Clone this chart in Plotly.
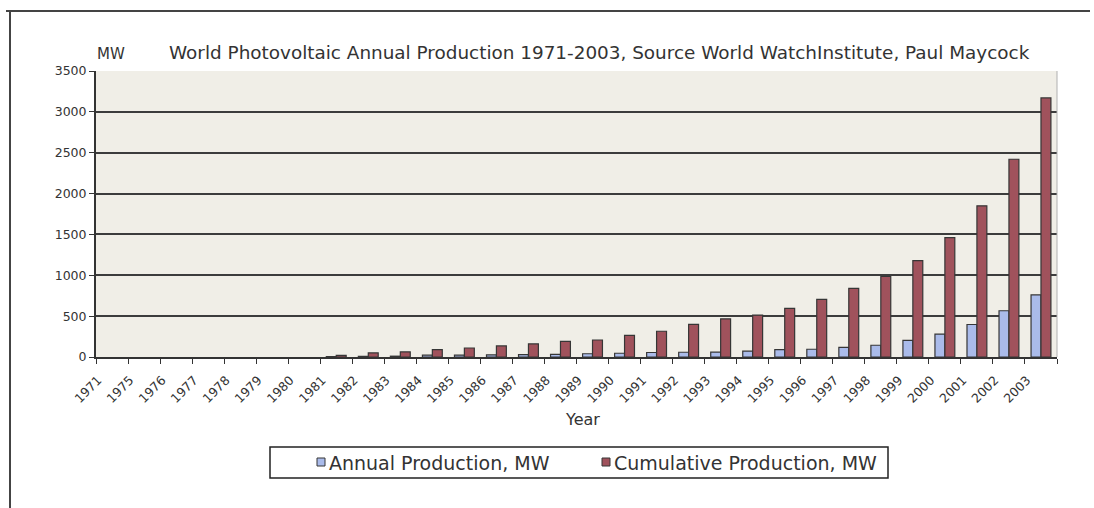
import plotly.graph_objects as go

# Production years shown on the category axis (1972-1974 not reported)
years = ["1971", "1975", "1976", "1977", "1978", "1979", "1980", "1981", "1982",
         "1983", "1984", "1985", "1986", "1987", "1988", "1989", "1990", "1991",
         "1992", "1993", "1994", "1995", "1996", "1997", "1998", "1999", "2000",
         "2001", "2002", "2003"]

# Annual PV module production, MW
annual_mw = [0, 0, 0, 0, 0, 0, 0, 5, 8,
             10, 22, 24, 26, 28, 32, 40, 46, 55,
             58, 60, 72, 90, 95, 118, 144, 204, 280,
             398, 566, 760]

# Cumulative PV module production, MW
cumulative_mw = [0, 0, 0, 0, 0, 0, 0, 20, 50,
                 62, 90, 110, 135, 160, 190, 208, 265, 315,
                 400, 467, 512, 596, 706, 840, 985, 1180, 1460,
                 1850, 2420, 3170]

y_ticks = [0, 500, 1000, 1500, 2000, 2500, 3000, 3500]

series_names = ["Annual Production, MW", "Cumulative Production, MW"]
series_colors = ["#aabbea", "#a0525c"]
outline = "#363636"
text_color = "#333333"

W, H = 1094, 508
L, R, T, B = 96, 37, 71, 151
PW, PH = W - L - R, H - T - B


def px_x(x):
    return (x - L) / PW


def px_y(y):
    return (H - B - y) / PH


fig = go.Figure()
for name, vals, col in zip(series_names, [annual_mw, cumulative_mw], series_colors):
    # no outline on empty bars so nothing is drawn for zero production
    widths = [1.2 if v > 0 else 0 for v in vals]
    fig.add_trace(go.Bar(
        x=years, y=vals, name=name, showlegend=False,
        marker=dict(color=col, line=dict(color=outline, width=widths)),
    ))

font_family = "DejaVu Sans, Verdana, sans-serif"

annotations = [
    dict(text="MW", xref="paper", yref="paper", x=px_x(95), y=px_y(65),
         xanchor="left", yanchor="bottom", showarrow=False,
         font=dict(size=15, color=text_color)),
    dict(text="World Photovoltaic Annual Production 1971-2003, Source World WatchInstitute, Paul Maycock",
         xref="paper", yref="paper", x=px_x(167), y=px_y(65),
         xanchor="left", yanchor="bottom", showarrow=False,
         font=dict(size=18.4, color=text_color)),
    dict(text="Year", xref="paper", yref="paper", x=px_x(582), y=px_y(431),
         xanchor="center", yanchor="bottom", showarrow=False,
         font=dict(size=16, color=text_color)),
]

shapes = [
    # page frame
    dict(type="line", xref="paper", yref="paper",
         x0=px_x(6), x1=px_x(1090), y0=px_y(11), y1=px_y(11),
         line=dict(color="#444444", width=2)),
    dict(type="line", xref="paper", yref="paper",
         x0=px_x(10), x1=px_x(10), y0=px_y(11), y1=px_y(510),
         line=dict(color="#444444", width=2)),
    # right edge of the plot area
    dict(type="line", xref="paper", yref="paper",
         x0=1, x1=1, y0=0, y1=1,
         line=dict(color="#b0b0b0", width=1)),
    # legend box
    dict(type="rect", xref="paper", yref="paper",
         x0=px_x(270), x1=px_x(888), y0=px_y(447), y1=px_y(478),
         fillcolor="white", line=dict(color="#222222", width=1.5)),
]

# legend entries: swatch + label
legend_swatch_x = [317, 602]
for sx, name, col in zip(legend_swatch_x, series_names, series_colors):
    shapes.append(dict(type="rect", xref="paper", yref="paper",
                       x0=px_x(sx), x1=px_x(sx + 8), y0=px_y(458), y1=px_y(466),
                       fillcolor=col, line=dict(color=outline, width=1)))
    annotations.append(dict(text=name, xref="paper", yref="paper",
                            x=px_x(sx + 10), y=px_y(462.5),
                            xanchor="left", yanchor="middle", showarrow=False,
                            font=dict(size=19, color=text_color)))

fig.update_layout(
    width=W, height=H,
    margin=dict(l=L, r=R, t=T, b=B, pad=0),
    paper_bgcolor="white",
    plot_bgcolor="#f0eee7",
    barmode="group", bargap=0.38, bargroupgap=0,
    font=dict(family=font_family, color=text_color),
    showlegend=False,
    xaxis=dict(
        type="category", tickangle=-45, tickson="boundaries",
        ticks="outside", ticklen=5, tickcolor=text_color,
        ticklabelstandoff=9, ticklabelshift=-14,
        showline=True, linecolor=text_color, linewidth=2,
        showgrid=False, tickfont=dict(size=12.5, color=text_color),
    ),
    yaxis=dict(
        range=[0, 3500], tickvals=y_ticks, tickformat="d",
        ticks="outside", ticklen=5, tickcolor=text_color,
        showline=True, linecolor=text_color, linewidth=2,
        showgrid=True, gridcolor="#3c3c3c", gridwidth=1.5,
        zeroline=False, tickfont=dict(size=12.5, color=text_color),
    ),
    annotations=annotations,
    shapes=shapes,
)

fig.write_html("out.html")
